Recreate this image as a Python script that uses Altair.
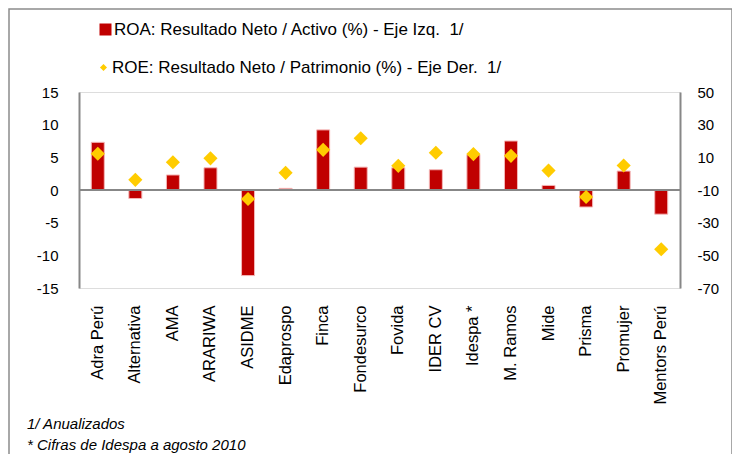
import altair as alt
import pandas as pd

categories = ["Adra Perú", "Alternativa", "AMA", "ARARIWA", "ASIDME", "Edaprospo",
              "Finca", "Fondesurco", "Fovida", "IDER CV", "Idespa *", "M. Ramos",
              "Mide", "Prisma", "Promujer", "Mentors Perú"]
roa = [7.3, -1.3, 2.3, 3.4, -13.1, 0.25, 9.2, 3.5, 3.4, 3.1, 5.4, 7.5, 0.7, -2.6, 2.9, -3.7]
roe = [12.2, -3.8, 7.0, 9.4, -15.5, 0.5, 14.6, 21.7, 4.8, 12.8, 12.0, 10.9, 1.9, -14.3, 5.0, -46.3]
roa_label = "ROA: Resultado Neto / Activo (%) - Eje Izq. \u00a01/"
roe_label = "ROE: Resultado Neto / Patrimonio (%) - Eje Der. \u00a01/"
left_ticks = [-15, -10, -5, 0, 5, 10, 15]
right_ticks = [-70, -50, -30, -10, 10, 30, 50]
notes = ["1/ Anualizados", "* Cifras de Idespa a agosto 2010"]

FONT = "Liberation Sans"
MINUS_FIX = "replace(datum.label, '\u2212', '-')"
LEFT_DOMAIN = [-15, 15]

df = pd.DataFrame({"cat": categories, "roa": roa, "roe": roe,
                   "s1": roa_label, "s2": roe_label})

xenc = alt.X("cat:N", sort=categories, title=None,
             axis=alt.Axis(orient="bottom", domain=False, ticks=False, labelAngle=-90,
                           labelPadding=17, labelFontSize=16.5, labelColor="#000000",
                           labelFont=FONT, labelLimit=0))

base = alt.Chart(df)

bars = base.mark_bar(size=13, stroke="#F4B6B6", strokeWidth=1).encode(
    x=xenc,
    y=alt.Y("roa:Q", title=None,
            scale=alt.Scale(domain=LEFT_DOMAIN, nice=False, zero=False),
            axis=alt.Axis(orient="left", values=left_ticks, grid=False, ticks=False,
                          labelOverlap=False, labelExpr=MINUS_FIX,
                          domainColor="#878787", domainWidth=2, labelPadding=21,
                          labelFontSize=15, labelColor="#000000", labelFont=FONT)),
    color=alt.Color("s1:N", scale=alt.Scale(range=["#C00000"]),
                    legend=alt.Legend(orient="none", legendX=18, legendY=-71, title=None,
                                      symbolType="square", symbolSize=144,
                                      symbolStrokeWidth=0, labelFontSize=17,
                                      labelFont=FONT, labelLimit=0, labelOffset=0,
                                      labelColor="#000000")),
)

zero = base.transform_calculate(z="0").mark_rule(color="#878787", strokeWidth=2).encode(
    y=alt.Y("z:Q", scale=alt.Scale(domain=LEFT_DOMAIN, nice=False, zero=False), axis=None))

points = base.mark_point(shape="diamond", filled=True, size=200, opacity=1).encode(
    x=xenc,
    y=alt.Y("roe:Q", title=None,
            scale=alt.Scale(domain=[-70, 50], nice=False, zero=False),
            axis=alt.Axis(orient="right", values=right_ticks, grid=False, ticks=False,
                          labelOverlap=False, labelExpr=MINUS_FIX,
                          domainColor="#878787", domainWidth=2, labelPadding=17,
                          labelFontSize=15, labelColor="#000000", labelFont=FONT)),
    color=alt.Color("s2:N", scale=alt.Scale(range=["#FFCC00"]),
                    legend=alt.Legend(orient="none", legendX=16, legendY=-33, title=None,
                                      symbolType="diamond", symbolSize=50,
                                      symbolStrokeWidth=0, labelFontSize=17,
                                      labelFont=FONT, labelLimit=0, labelOffset=0,
                                      labelColor="#000000")),
)

note_df = pd.DataFrame({"note": notes})
note1 = alt.Chart(note_df).transform_filter(alt.datum.note == notes[0]).mark_text(
    align="left", baseline="alphabetic", fontSize=15, fontStyle="italic", font=FONT,
    color="#000000").encode(x=alt.value(-52), y=alt.value(337), text="note:N")
note2 = alt.Chart(note_df).transform_filter(alt.datum.note == notes[1]).mark_text(
    align="left", baseline="alphabetic", fontSize=15, fontStyle="italic", font=FONT,
    color="#000000").encode(x=alt.value(-52), y=alt.value(358), text="note:N")

frame = alt.Chart(note_df).transform_filter(alt.datum.note == notes[0]).mark_rect(
    fill=None, stroke="#8C8C8C", strokeWidth=1.5).encode(
    x=alt.value(-70), x2=alt.value(653), y=alt.value(-83), y2=alt.value(400))

chart = alt.layer(frame, bars, zero, points, note1, note2).resolve_scale(
    y="independent", color="independent"
).properties(
    width=601, height=196,
    autosize=alt.AutoSizeParams(type="none"),
    padding={"left": 71, "top": 84, "right": 52, "bottom": 166},
).configure_view(fill="#FDE9D9", stroke=None).configure(background="#FFFFFF")

chart.save("out.html", embed_options={"renderer": "svg", "actions": False})
